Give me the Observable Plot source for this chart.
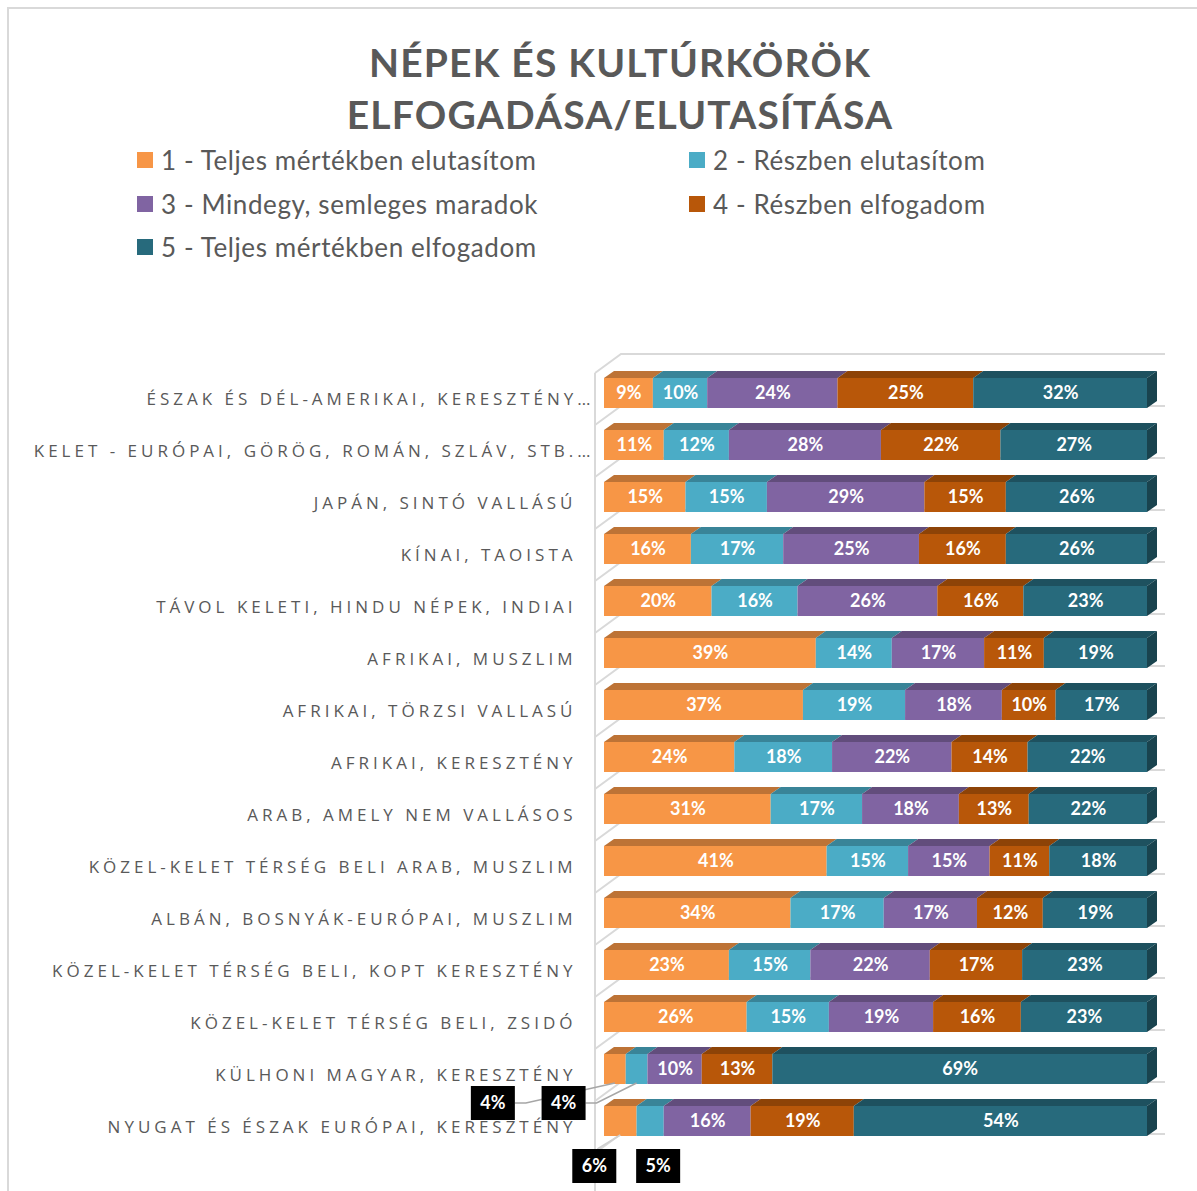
<!DOCTYPE html>
<html><head><meta charset="utf-8">
<script src="https://cdn.jsdelivr.net/npm/d3@7"></script>
<script src="https://cdn.jsdelivr.net/npm/@observablehq/plot@0.6"></script>
<style>
body{margin:0;background:#fff;}
#wrap{position:relative;width:1197px;height:1191px;overflow:hidden;font-family:Lato,"Open Sans",sans-serif;background:#fff;}
#frame{position:absolute;left:7px;top:7px;width:1400px;height:1400px;border:2px solid #d9d9d9;box-sizing:border-box;}
#title{position:absolute;left:0;width:1240px;top:36px;text-align:center;font-weight:700;font-size:39px;line-height:52px;letter-spacing:1.2px;color:#595959;}
.leg{position:absolute;font-size:26px;letter-spacing:0.6px;color:#595959;display:flex;align-items:center;height:30px;white-space:nowrap;}
.leg .sw{width:16px;height:16px;margin-right:8px;flex:none;}
#chart{position:absolute;left:0;top:340px;}
</style></head>
<body>
<div id="wrap">
  <div id="frame"></div>
  <div id="title">NÉPEK ÉS KULTÚRKÖRÖK<br>ELFOGADÁSA/ELUTASÍTÁSA</div>
  <div id="legend"></div>
  <div id="chart"></div>
</div>
<script>
// ---- data ----
const categories = [
  "ÉSZAK ÉS DÉL-AMERIKAI, KERESZTÉNY…",
  "KELET - EURÓPAI, GÖRÖG, ROMÁN, SZLÁV, STB.…",
  "JAPÁN, SINTÓ VALLÁSÚ",
  "KÍNAI, TAOISTA",
  "TÁVOL KELETI, HINDU NÉPEK, INDIAI",
  "AFRIKAI, MUSZLIM",
  "AFRIKAI, TÖRZSI VALLASÚ",
  "AFRIKAI, KERESZTÉNY",
  "ARAB, AMELY NEM VALLÁSOS",
  "KÖZEL-KELET TÉRSÉG BELI ARAB, MUSZLIM",
  "ALBÁN, BOSNYÁK-EURÓPAI, MUSZLIM",
  "KÖZEL-KELET TÉRSÉG BELI, KOPT KERESZTÉNY",
  "KÖZEL-KELET TÉRSÉG BELI, ZSIDÓ",
  "KÜLHONI MAGYAR, KERESZTÉNY",
  "NYUGAT ÉS ÉSZAK EURÓPAI, KERESZTÉNY"
];
const seriesNames = [
  "1 - Teljes mértékben elutasítom",
  "2 - Részben elutasítom",
  "3 - Mindegy, semleges maradok",
  "4 - Részben elfogadom",
  "5 - Teljes mértékben elfogadom"
];
const s1 = [9, 11, 15, 16, 20, 39, 37, 24, 31, 41, 34, 23, 26, 4, 6];
const s2 = [10, 12, 15, 17, 16, 14, 19, 18, 17, 15, 17, 15, 15, 4, 5];
const s3 = [24, 28, 29, 25, 26, 17, 18, 22, 18, 15, 17, 22, 19, 10, 16];
const s4 = [25, 22, 15, 16, 16, 11, 10, 14, 13, 11, 12, 17, 16, 13, 19];
const s5 = [32, 27, 26, 26, 23, 19, 17, 22, 22, 18, 19, 23, 23, 69, 54];
const seriesValues = [s1, s2, s3, s4, s5];
const colors = ["#F79646", "#4BACC6", "#8064A2", "#B85709", "#276A7C"];

// ---- styles (not data) ----
const calloutThreshold = 9;      // smaller segments get black callout boxes
const calloutOffsets = {         // box centre offset from segment's bottom-centre, leader kind
  "13|0": [-122, 20, "side"],
  "13|1": [-73, 20, "side"],
  "14|0": [-26, 31, "top"],
  "14|1": [8, 31, "none"]
};

// ---- table ----
const table = [];
categories.forEach((c, i) => seriesNames.forEach((s, j) => table.push({cat: c, series: s, value: seriesValues[j][i], row: i, si: j})));

// ---- legend ----
const legend = document.getElementById("legend");
seriesNames.forEach((s, i) => {
  const col = i % 2, row = Math.floor(i / 2);
  const d = document.createElement("div");
  d.className = "leg";
  d.style.left = (137 + col * 552) + "px";
  d.style.top = (145 + row * 43.5) + "px";
  d.innerHTML = `<span class="sw" style="background:${colors[i]}"></span><span>${s}</span>`;
  legend.appendChild(d);
});

const NS = "http://www.w3.org/2000/svg";
function el(tag, attrs, parent) {
  const e = document.createElementNS(NS, tag);
  for (const k in attrs) e.setAttribute(k, attrs[k]);
  if (parent) parent.appendChild(e);
  return e;
}
function bwOf(y) { return typeof y.bandwidth === "function" ? y.bandwidth() : y.bandwidth; }
function rowStacks(i) {
  const vals = seriesValues.map(s => s[i]);
  const tot = d3.sum(vals);
  let acc = 0;
  return vals.map((v, j) => { const a = acc / tot; acc += v; return {x1: a, x2: acc / tot, v, j}; });
}
const half = 15, DX = 10, DY = 7;

// back wall / floor gridlines
function gridMark(index, scales, values, dims) {
  const {x, y} = scales;
  const bw = bwOf(y);
  const g = el("g", {fill: "none", stroke: "#d9d9d9", "stroke-width": 2});
  const x0 = x(0), x1 = x(1);
  const bounds = categories.map(c => y(c)).concat([y(categories[categories.length - 1]) + bw]);
  bounds.forEach(b => {
    el("path", {d: `M${x0 - 9},${b + 6}L${x0 + 17},${b - 13}L${x1 + 18},${b - 13}`}, g);
  });
  el("path", {d: `M${x0 - 9},${bounds[0] + 6}L${x0 - 9},${dims.height}`}, g);
  return g;
}

// 3D top and side faces
function depthMark(index, scales) {
  const {x, y} = scales;
  const bw = bwOf(y);
  const g = el("g", {});
  categories.forEach((c, i) => {
    const cy = y(c) + bw / 2;
    const st = rowStacks(i);
    st.forEach(s => {
      const a = x(s.x1), b = x(s.x2);
      el("path", {d: `M${a},${cy - half}L${b},${cy - half}L${b + DX},${cy - half - DY}L${a + DX},${cy - half - DY}Z`,
        fill: d3.color(colors[s.j]).darker(0.75).formatHex()}, g);
    });
    const e = x(1);
    el("path", {d: `M${e},${cy - half}L${e + DX},${cy - half - DY}L${e + DX},${cy + half - DY}L${e},${cy + half}Z`,
      fill: d3.color(colors[4]).darker(1.3).formatHex()}, g);
  });
  return g;
}

// callouts for small segments
function calloutMark(index, scales) {
  const {x, y} = scales;
  const bw = bwOf(y);
  const g = el("g", {});
  categories.forEach((c, i) => {
    const cy = y(c) + bw / 2;
    rowStacks(i).forEach(s => {
      if (s.v >= calloutThreshold) return;
      const off = calloutOffsets[i + "|" + s.j];
      if (!off) return;
      const ax = x((s.x1 + s.x2) / 2), ay = cy + half - 1;
      const bx = ax + off[0], by = ay + off[1];
      const w = 44, h = 34;
      if (off[2] === "side") {
        el("path", {d: `M${bx + w / 2},${by}L${bx + w / 2 + 11},${by}L${ax},${ay}`, fill: "none", stroke: "#a6a6a6", "stroke-width": 1.5}, g);
      } else if (off[2] === "top") {
        el("path", {d: `M${bx + 3},${by - h / 2}L${ax},${ay}`, fill: "none", stroke: "#d0d0d0", "stroke-width": 1.5}, g);
      }
      el("rect", {x: bx - w / 2, y: by - h / 2, width: w, height: h, fill: "#000"}, g);
      const t = el("text", {x: bx, y: by, "text-anchor": "middle", dy: "0.35em", fill: "#fff", "font-size": 18, "font-weight": 700}, g);
      t.textContent = s.v + "%";
    });
  });
  return g;
}

const labelStyle = {fill: "#595959", fontSize: 17, fontFamily: "'Open Sans', sans-serif", className: "catlab", textAnchor: "end", dy: 6};
const chart = Plot.plot({
  width: 1197, height: 851,
  marginLeft: 604, marginRight: 50, marginTop: 26, marginBottom: 43,
  x: {domain: [0, 1], axis: null},
  y: {domain: categories, axis: null, padding: 0},
  color: {domain: seriesNames, range: colors},
  style: {fontFamily: "Lato, 'Open Sans', sans-serif", background: "transparent", overflow: "visible"},
  marks: [
    gridMark,
    Plot.barX(table, Plot.stackX({x: "value", y: "cat", fill: "series", offset: "normalize", insetTop: 11, insetBottom: 11})),
    depthMark,
    Plot.text(table, Plot.stackX({x: "value", y: "cat", z: "series", offset: "normalize",
      text: d => d.value >= calloutThreshold ? d.value + "%" : "", fill: "white", fontWeight: 700, fontSize: 18})),
    // truncated labels overflow further to the right, as in the original
    Plot.text(categories.filter(d => !d.endsWith("…")), {x: () => 0, y: d => d, text: d => d, dx: -28, ...labelStyle}),
    Plot.text(categories.filter(d => d.endsWith("…")), {x: () => 0, y: d => d, text: d => d, dx: -10, ...labelStyle}),
    calloutMark
  ]
});
document.getElementById("chart").appendChild(chart);
const st = document.createElement("style");
st.textContent = ".catlab text{letter-spacing:4px}";
document.head.appendChild(st);
</script>
</body></html>
